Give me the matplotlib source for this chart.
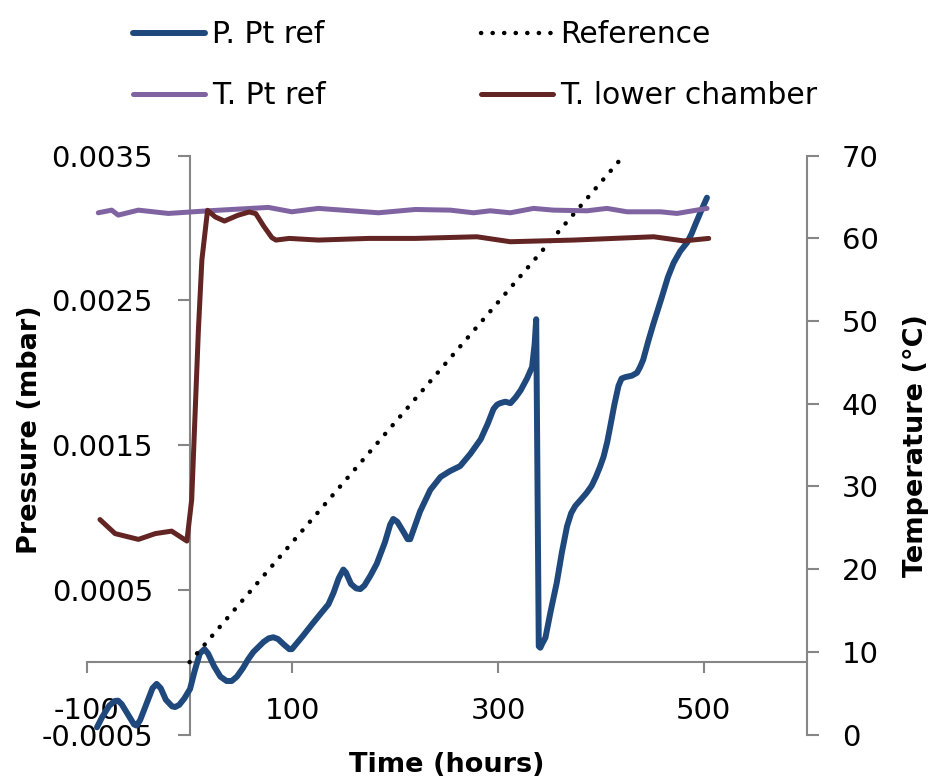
import matplotlib
matplotlib.use("Agg")
import matplotlib.pyplot as plt

plt.rcParams['font.family'] = ['DejaVu Sans']

# ---- data ----
time_p = [-90, -85, -78, -72.5, -69.5, -66, -60, -54, -51.5, -48, -42, -36, -32, -28, -23,
          -17, -14, -10, -5, 0.5, 5, 10, 14.5, 18, 24, 30, 36, 41, 46, 52, 57, 62, 72, 77,
          81.5, 86, 92, 97, 99.5, 103, 110, 120, 128, 135, 140, 145, 149.5, 152, 157, 162,
          166, 170, 176, 182, 190, 195, 198, 202, 208, 212, 214.5, 218, 224, 234, 244, 253,
          263, 273, 283, 290, 295.5, 299, 302, 307, 312, 317, 322, 328, 333, 335.5, 337,
          339.5, 341, 343, 346, 351, 357, 362, 367, 371, 375, 380, 386, 391, 395, 399,
          402.5, 406, 409, 413, 417, 420, 423.6, 430, 435, 438, 441, 446, 451, 455, 459,
          465, 470.6, 477, 483.7, 488, 492, 498, 503]
pressure = [-0.00045, -0.00038, -0.0003, -0.000268, -0.000266, -0.00029, -0.00036, -0.00043,
            -0.000438, -0.0004, -0.00029, -0.00018, -0.00015, -0.00018, -0.00026,
            -0.000305, -0.00031, -0.000295, -0.00025, -0.000185, -0.00006, 0.00006,
            0.00009, 0.00006, -0.00003, -0.0001, -0.00013, -0.00013, -0.0001, -0.00004,
            0.00002, 0.00007, 0.00014, 0.000165, 0.000172, 0.00016, 0.00012, 0.00009,
            0.00009, 0.00012, 0.00018, 0.00027, 0.00034, 0.0004, 0.00048, 0.00058,
            0.00064, 0.00062, 0.00054, 0.00051, 0.000505, 0.00053, 0.0006, 0.00068,
            0.00083, 0.00095, 0.00099, 0.00097, 0.0009, 0.00085, 0.00085, 0.00092,
            0.00104, 0.00119, 0.00128, 0.00132, 0.001355, 0.00144, 0.00154, 0.00165,
            0.00175, 0.00178, 0.00179, 0.0018, 0.00179, 0.00183, 0.00188, 0.00196,
            0.00204, 0.0022, 0.00237, 0.00011, 0.0001, 0.00013, 0.00017, 0.00035,
            0.00055, 0.00076, 0.00094, 0.00103, 0.00108, 0.00112, 0.00117, 0.00122,
            0.00128, 0.00135, 0.00142, 0.00152, 0.00163, 0.00178, 0.00191, 0.00196,
            0.00197, 0.00198, 0.002, 0.00204, 0.00209, 0.00222, 0.00234, 0.00243,
            0.00252, 0.00266, 0.00276, 0.00284, 0.0029, 0.00296, 0.00303, 0.00313,
            0.00321]

ref_time = [0, 422]
ref_pressure = [0.0, 0.0035]

time_tpt = [-88.7, -75.7, -69.3, -49.8, -20.6, 18.3, 76.7, 99.4, 125.3, 183.7, 219.4, 253.4,
            276.1, 292.3, 311.8, 334.4, 353.9, 386.4, 405.8, 425.3, 457.7, 473.9, 503.1]
temp_pt = [63.1, 63.42, 62.82, 63.42, 63.02, 63.34, 63.75, 63.22, 63.63, 63.1, 63.5, 63.42,
           63.1, 63.34, 63.1, 63.63, 63.42, 63.34, 63.63, 63.22, 63.22, 63.02, 63.63]

time_tlc = [-87.1, -72.4, -49.7, -33.3, -17.4, -2.6, 2.1, 8.6, 12, 17.5, 25, 33.9, 47, 58,
            64.4, 72, 80, 84, 96.9, 125.3, 173.9, 219.4, 279.3, 311.8, 373.3, 412.3, 451.2,
            480.4, 504.7]
temp_lc = [26.0, 24.3, 23.6, 24.3, 24.6, 23.4, 28.4, 48.9, 57.4, 63.4, 62.6, 62.1, 62.8, 63.2,
           63.0, 61.5, 60.1, 59.8, 60.0, 59.8, 60.0, 60.0, 60.2, 59.6, 59.8, 60.0, 60.2,
           59.7, 60.0]

x_ticks = [-100, 100, 300, 500]
p_ticks = [-0.0005, 0.0005, 0.0015, 0.0025, 0.0035]
p_tick_labels = ["-0.0005", "0.0005", "0.0015", "0.0025", "0.0035"]
t_ticks = [0, 10, 20, 30, 40, 50, 60, 70]

# ---- style ----
BLUE = '#1F497D'
PURPLE = '#8064A2'
BROWN = '#632523'
AXIS = '#868686'

fig = plt.figure(figsize=(9.32, 7.81), dpi=100)
ax = fig.add_axes([0.0930, 0.0595, 0.7726, 0.7411])
ax2 = ax.twinx()

l_p, = ax.plot(time_p, pressure, color=BLUE, lw=4.3, solid_capstyle='round',
               solid_joinstyle='round', label='P. Pt ref', zorder=3)
l_r, = ax.plot(ref_time, ref_pressure, color='black', lw=3.2,
               linestyle=(0, (0.05, 2.55)), dash_capstyle='round', label='Reference', zorder=4)
l_t, = ax2.plot(time_tpt, temp_pt, color=PURPLE, lw=3.6, solid_capstyle='round',
                solid_joinstyle='round', label='T. Pt ref')
l_c, = ax2.plot(time_tlc, temp_lc, color=BROWN, lw=3.6, solid_capstyle='round',
                solid_joinstyle='round', label='T. lower chamber')

ax.set_xlim(-100, 600)
ax.set_ylim(-0.0005, 0.0035)
ax2.set_ylim(0, 70)

ax.spines['left'].set_position(('data', 0))
ax.spines['bottom'].set_position(('data', 0))
for s in ['top', 'right']:
    ax.spines[s].set_visible(False)
for s in ['top', 'left', 'bottom']:
    ax2.spines[s].set_visible(False)
for s in ['left', 'bottom']:
    ax.spines[s].set_color(AXIS)
    ax.spines[s].set_linewidth(1.5)
ax2.spines['right'].set_color(AXIS)
ax2.spines['right'].set_linewidth(1.5)

ax.set_xticks(x_ticks)
ax.set_xticklabels([str(v) for v in x_ticks])
ax.set_yticks(p_ticks)
ax.set_yticklabels(p_tick_labels)
ax2.set_yticks(t_ticks)
ax2.set_yticklabels([str(v) for v in t_ticks])

ax.tick_params(axis='x', direction='out', length=8, width=1.5, color=AXIS,
               labelsize=21, pad=17)
ax.tick_params(axis='y', direction='out', length=8.4, width=1.5, color=AXIS,
               labelsize=21, pad=18)
ax2.tick_params(axis='y', direction='out', length=8.4, width=1.5, color=AXIS,
                labelsize=21, pad=17)

fig.text(447 / 932, 1 - 765 / 781, 'Time (hours)', ha='center', va='center',
         fontsize=19.5, fontweight='bold')
fig.text(30 / 932, 1 - 430 / 781, 'Pressure (mbar)', ha='center', va='center',
         rotation=90, fontsize=19.5, fontweight='bold')
fig.text(916 / 932, 1 - 446 / 781, 'Temperature (°C)', ha='center', va='center',
         rotation=90, fontsize=19.5, fontweight='bold')

fig.legend(handles=[l_p, l_t, l_r, l_c], ncol=2, loc='upper left',
           bbox_to_anchor=(133 / 932, 1 - 20 / 781), frameon=False,
           fontsize=21.5, handlelength=2.4, handletextpad=0.25,
           columnspacing=5.2, labelspacing=1.07, borderpad=0, borderaxespad=0)

fig.savefig('out.png', dpi=100)
